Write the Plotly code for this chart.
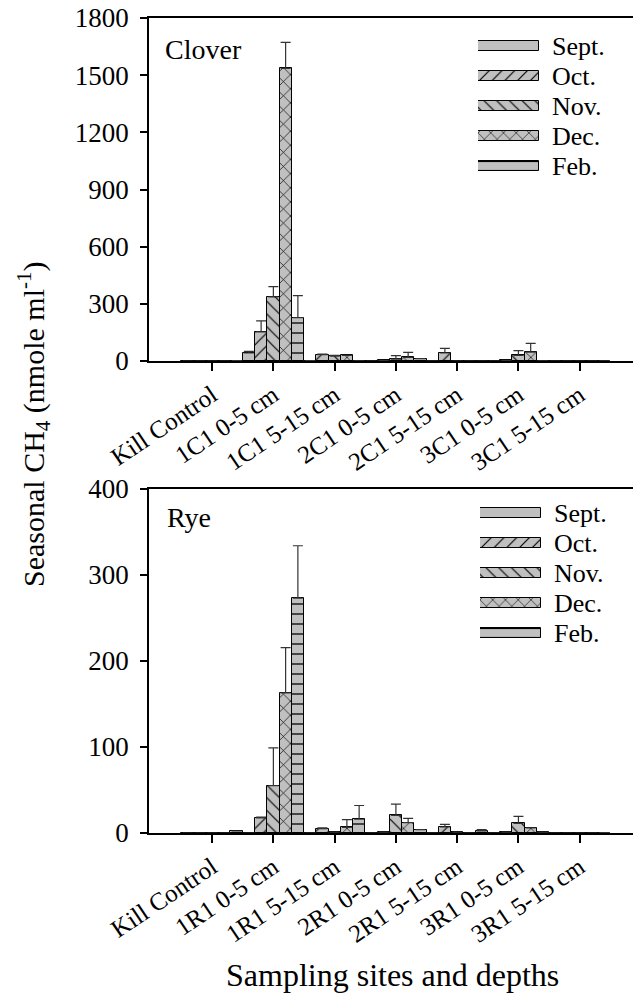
import plotly.graph_objects as go

# ---------------- data ----------------
months = ["Sept.", "Oct.", "Nov.", "Dec.", "Feb."]
patterns = ["", "/", "\\", "x", "-"]

clover_sites = ["Kill Control", "1C1 0-5 cm", "1C1 5-15 cm", "2C1 0-5 cm",
                "2C1 5-15 cm", "3C1 0-5 cm", "3C1 5-15 cm"]
clover_sept = [0, 42, 2, 0, 0, 0, 0]
clover_oct = [0, 153, 33, 3, 42, 3, 0]
clover_nov = [0, 336, 25, 10, 0, 30, 0]
clover_dec = [0, 1536, 30, 19, 0, 47, 0]
clover_feb = [2, 228, 1, 12, 0, 1, 0.5]
clover_sept_err = [None, 8, None, None, None, None, None]
clover_oct_err = [None, 58, 3, None, 24, None, None]
clover_nov_err = [None, 54, 5, 18, None, 24, None]
clover_dec_err = [None, 136, None, 26, None, 46, None]
clover_feb_err = [None, 115, None, None, None, None, None]

rye_sites = ["Kill Control", "1R1 0-5 cm", "1R1 5-15 cm", "2R1 0-5 cm",
             "2R1 5-15 cm", "3R1 0-5 cm", "3R1 5-15 cm"]
rye_sept = [0, 0, 0, 0, 0, 0, 0]
rye_oct = [0, 17.5, 5, 1, 7, 1, 0]
rye_nov = [0, 55, 1, 20.6, 1, 11.3, 0]
rye_dec = [0, 163, 6.6, 12, 0, 6, 0]
rye_feb = [2.3, 273, 16, 4, 2.5, 1, 0.5]
rye_sept_err = [None] * 7
rye_oct_err = [None, 1, 1, None, 3, None, None]
rye_nov_err = [None, 44, None, 13, None, 8, None]
rye_dec_err = [None, 52.5, 9, 5, None, None, None]
rye_feb_err = [None, 61, 16, None, 1.5, None, None]

clover_tick_vals = [0, 300, 600, 900, 1200, 1500, 1800]
rye_tick_vals = [0, 100, 200, 300, 400]

# ---------------- style ----------------
W, H = 633, 1002
FONT = "Times New Roman, Liberation Serif, serif"
GRAY = "#c0c0c0"


def py(px):
    return 1 - px / H


def pattern(shape, size=9):
    return dict(shape=shape, fgcolor="black", bgcolor=GRAY, size=size,
                solidity=0.13, fillmode="replace")


fig = go.Figure()

panels = [
    ("x", "y", clover_sites,
     [clover_sept, clover_oct, clover_nov, clover_dec, clover_feb],
     [clover_sept_err, clover_oct_err, clover_nov_err, clover_dec_err, clover_feb_err]),
    ("x2", "y2", rye_sites,
     [rye_sept, rye_oct, rye_nov, rye_dec, rye_feb],
     [rye_sept_err, rye_oct_err, rye_nov_err, rye_dec_err, rye_feb_err]),
]

for xa, ya, sites, series, errs in panels:
    for m, pat, vals, err in zip(months, patterns, series, errs):
        fig.add_trace(go.Bar(
            x=sites, y=vals, name=m, xaxis=xa, yaxis=ya, showlegend=False,
            marker=dict(color=GRAY, line=dict(color="black", width=1),
                        pattern=pattern(pat, 10 if pat in ("x", "-") else 9)),
            error_y=dict(type="data", symmetric=False, array=err,
                         arrayminus=[0] * len(err), color="#333333",
                         thickness=1.2, width=5),
        ))

# custom legends (wide swatches) on hidden axes
for xa, ya in (("x3", "y3"), ("x4", "y4")):
    fig.add_trace(go.Bar(
        y=months, x=[1] * len(months), orientation="h", width=0.33,
        xaxis=xa, yaxis=ya, showlegend=False, hoverinfo="skip",
        marker=dict(color=GRAY, line=dict(color="black", width=1),
                    pattern=dict(shape=patterns, fgcolor="black", bgcolor=GRAY,
                                 size=9, solidity=0.13, fillmode="replace")),
    ))

X0 = 149
xrange = [-1.03, 6.87]
common_x = dict(type="category", range=xrange, showline=True, linecolor="black",
                linewidth=1.5, mirror=True, ticks="outside", ticklen=8,
                tickcolor="black", tickwidth=1.5, tickangle=-34, showgrid=False,
                automargin=False,
                tickfont=dict(family=FONT, size=25, color="black"))
common_y = dict(showline=True, linecolor="black", linewidth=1.5, ticks="outside",
                ticklen=7, tickcolor="black", tickwidth=1.5, showgrid=False,
                zeroline=False, ticklabelstandoff=6, automargin=False,
                tickfont=dict(family=FONT, size=27, color="black"))

legend_y = dict(type="category", autorange="reversed", side="right",
                tickmode="array", tickvals=months, ticktext=months,
                showline=False, showgrid=False, zeroline=False, ticks="",
                ticklabelstandoff=12, automargin=False,
                tickfont=dict(family=FONT, size=26, color="black"))
legend_x = dict(range=[0, 1], visible=False, showgrid=False, zeroline=False,
                automargin=False)

fig.update_layout(
    width=W, height=H, margin=dict(l=0, r=0, t=0, b=0, autoexpand=False),
    paper_bgcolor="white", plot_bgcolor="white",
    barmode="group", bargap=0, bargroupgap=0,
    font=dict(family=FONT, color="black"),
    xaxis=dict(domain=[X0 / W, 1], anchor="y", **common_x),
    yaxis=dict(domain=[py(361), py(18)], anchor="x", range=[0, 1800],
               tickvals=clover_tick_vals, **common_y),
    xaxis2=dict(domain=[X0 / W, 1], anchor="y2", **common_x),
    yaxis2=dict(domain=[py(833), py(489)], anchor="x2", range=[0, 400],
                tickvals=rye_tick_vals, **common_y),
    xaxis3=dict(domain=[478 / W, 539 / W], anchor="y3", **legend_x),
    yaxis3=dict(domain=[py(181), py(31)], anchor="x3", **legend_y),
    xaxis4=dict(domain=[480 / W, 541 / W], anchor="y4", **legend_x),
    yaxis4=dict(domain=[py(648), py(498)], anchor="x4", **legend_y),
    showlegend=False,
)

annotations = [
    dict(text="Clover", x=163 / W, y=py(50), xanchor="left", yanchor="middle",
         font=dict(size=28)),
    dict(text="Rye", x=165 / W, y=py(517), xanchor="left", yanchor="middle",
         font=dict(size=28)),
    dict(text="Seasonal CH<sub>4</sub> (nmole ml<sup>-1</sup>)", x=33 / W, y=py(425),
         xanchor="center", yanchor="middle", textangle=-90, font=dict(size=30)),
    dict(text="Sampling sites and depths", x=392 / W, y=py(975), xanchor="center",
         yanchor="middle", font=dict(size=32)),
]
for a in annotations:
    a.update(xref="paper", yref="paper", showarrow=False)
    a["font"].update(family=FONT, color="black")
fig.update_layout(annotations=annotations)

fig.write_html("out.html")
